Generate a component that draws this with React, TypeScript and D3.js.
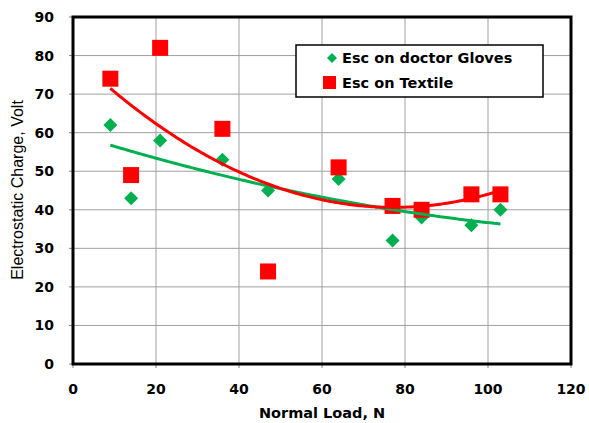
import React from "react";
import * as d3 from "d3";

const loads = [9, 14, 21, 36, 47, 64, 77, 84, 96, 103];
const glovesCharge = [62, 43, 58, 53, 45, 48, 32, 38, 36, 40];
const textileCharge = [74, 49, 82, 61, 24, 51, 41, 40, 44, 44];
const xTicks = [0, 20, 40, 60, 80, 100, 120];
const yTicks = [0, 10, 20, 30, 40, 50, 60, 70, 80, 90];

function polyFit2(xs: number[], ys: number[]) {
  const n = xs.length;
  let s1 = 0, s2 = 0, s3 = 0, s4 = 0, t0 = 0, t1 = 0, t2 = 0;
  xs.forEach((x, i) => {
    const y = ys[i];
    s1 += x; s2 += x * x; s3 += x ** 3; s4 += x ** 4;
    t0 += y; t1 += x * y; t2 += x * x * y;
  });
  const M = [[n, s1, s2, t0], [s1, s2, s3, t1], [s2, s3, s4, t2]];
  for (let c = 0; c < 3; c++) {
    for (let r = c + 1; r < 3; r++) {
      const f = M[r][c] / M[c][c];
      for (let k = c; k < 4; k++) M[r][k] -= f * M[c][k];
    }
  }
  const coef = [0, 0, 0];
  for (let r = 2; r >= 0; r--) {
    let s = M[r][3];
    for (let k = r + 1; k < 3; k++) s -= M[r][k] * coef[k];
    coef[r] = s / M[r][r];
  }
  return (x: number) => coef[0] + coef[1] * x + coef[2] * x * x;
}

export default function App() {
  const W = 589, H = 423;
  const left = 73, right = 571, top = 17, bottom = 364;
  const x = d3.scaleLinear().domain([0, 120]).range([left, right]);
  const y = d3.scaleLinear().domain([0, 90]).range([bottom, top]);
  const gFit = polyFit2(loads, glovesCharge);
  const tFit = polyFit2(loads, textileCharge);
  const xs = d3.range(loads[0], loads[loads.length - 1] + 0.01, 0.5);
  const gPath = d3.line<number>().x(d => x(d)).y(d => y(gFit(d)))(xs)!;
  const tPath = d3.line<number>().x(d => x(d)).y(d => y(tFit(d)))(xs)!;
  const tickFont = "Verdana, 'DejaVu Sans', sans-serif";
  return (
    <svg width={W} height={H} style={{ position: "absolute", left: 0, top: 0, background: "#fff" }}>
      <rect width={W} height={H} fill="#fff" />
      {xTicks.map(t => (
        <line key={"gx" + t} x1={x(t)} x2={x(t)} y1={top} y2={bottom} stroke="#a0a0a0" strokeWidth={1} />
      ))}
      {yTicks.map(t => (
        <line key={"gy" + t} x1={left} x2={right} y1={y(t)} y2={y(t)} stroke="#a0a0a0" strokeWidth={1} />
      ))}
      {xTicks.map(t => (
        <line key={"tx" + t} x1={x(t)} x2={x(t)} y1={bottom} y2={bottom + 4} stroke="#808080" strokeWidth={1} />
      ))}
      {yTicks.map(t => (
        <line key={"ty" + t} x1={left - 4} x2={left} y1={y(t)} y2={y(t)} stroke="#808080" strokeWidth={1} />
      ))}
      <rect x={left} y={top} width={right - left} height={bottom - top} fill="none" stroke="#000" strokeWidth={3} />
      {xTicks.map(t => (
        <text key={"lx" + t} x={x(t)} y={bottom + 30} textAnchor="middle" fontFamily={tickFont} fontWeight="bold" fontSize={14} fill="#000">{t}</text>
      ))}
      {yTicks.map(t => (
        <text key={"ly" + t} x={left - 19} y={y(t) + 5} textAnchor="end" fontFamily={tickFont} fontWeight="bold" fontSize={14} fill="#000">{t}</text>
      ))}
      <text x={(left + right) / 2} y={418} textAnchor="middle" fontFamily={tickFont} fontWeight="bold" fontSize={14.5} fill="#000">Normal Load, N</text>
      <text transform={`translate(23, 190) rotate(-90)`} textAnchor="middle" fontFamily="'Liberation Sans', 'Open Sans', sans-serif" fontSize={16} fill="#000">Electrostatic Charge, Volt</text>

      {loads.map((l, i) => (
        <path key={"gm" + i} d={`M${x(l)},${y(glovesCharge[i]) - 7}L${x(l) + 7},${y(glovesCharge[i])}L${x(l)},${y(glovesCharge[i]) + 7}L${x(l) - 7},${y(glovesCharge[i])}Z`} fill="#00b050" />
      ))}
      {loads.map((l, i) => (
        <rect key={"tm" + i} x={x(l) - 8} y={y(textileCharge[i]) - 8} width={16} height={16} fill="#ff0000" />
      ))}
      <path d={gPath} fill="none" stroke="#00b050" strokeWidth={3} />
      <path d={tPath} fill="none" stroke="#ff0000" strokeWidth={3} />

      <rect x={296} y={45} width={247} height={52} fill="#fff" stroke="#000" strokeWidth={1.5} />
      <path d="M332,53L337,58L332,63L327,58Z" fill="#00b050" />
      <text x={342} y={63} fontFamily={tickFont} fontWeight="bold" fontSize={14.5} fill="#000">Esc on doctor Gloves</text>
      <rect x={323} y={76} width={13} height={13} fill="#ff0000" />
      <text x={342} y={88} fontFamily={tickFont} fontWeight="bold" fontSize={14.5} fill="#000">Esc on Textile</text>
    </svg>
  );
}
